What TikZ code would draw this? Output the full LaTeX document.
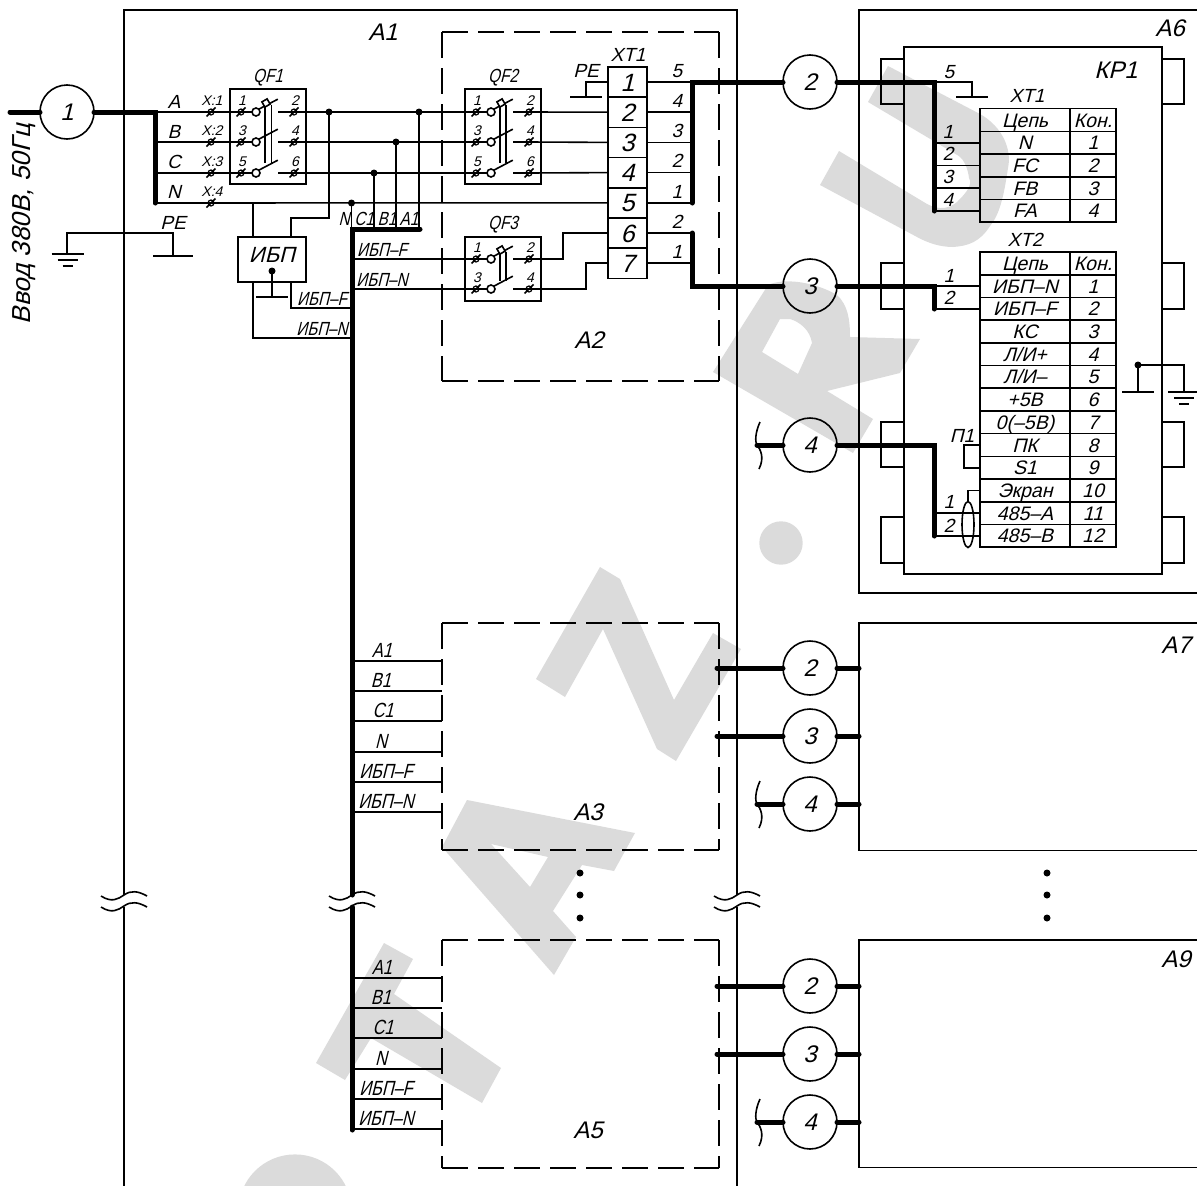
\documentclass[tikz,border=0pt]{standalone}
\usepackage{fontspec}
\setmainfont{Liberation Sans}[FakeStretch=0.8,FakeSlant=0.25]
\newfontfamily\widef{Liberation Sans}[FakeStretch=1,FakeSlant=0.25]
\usetikzlibrary{positioning,shapes.geometric}
\definecolor{stamp}{HTML}{DBDBDB}
\tikzset{
  wire/.style={line width=1.6pt},
  cable/.style={line width=5pt, line cap=round},
  box/.style={draw, line width=1.6pt, inner sep=0pt, outer sep=0pt},
  dashbox/.style={inner sep=0pt, outer sep=0pt},
  dashline/.style={line width=1.6pt, dash pattern=on 26pt off 10pt},
  txt/.style={inner sep=0pt, text depth=0pt, anchor=base, font=\fontsize{19}{19}\selectfont},
  txtS/.style={txt, font=\widef\fontsize{14}{14}\selectfont},
  txtM/.style={txt, font=\fontsize{20.5}{20.5}\selectfont},
  txtW/.style={txt, font=\widef\fontsize{19}{19}\selectfont},
  txtL/.style={txt, font=\widef\fontsize{24}{24}\selectfont},
  tag/.style={circle, draw, line width=1.6pt, minimum size=54pt, inner sep=0pt, outer sep=0pt, text height=17pt, text depth=0pt, font=\widef\fontsize{24}{24}\selectfont},
  dot/.style={circle, fill, inner sep=0pt, minimum size=7pt},
  clampc/.style={circle, draw, line width=1.2pt, inner sep=0pt, minimum size=6pt},
  contact/.style={circle, draw, line width=1.6pt, inner sep=0pt, outer sep=0pt, minimum size=8pt},
  strip/.style={box, minimum width=39pt, minimum height=30.2pt, node distance=30.2pt, text height=18pt, text depth=0pt, font=\widef\fontsize{25}{25}\selectfont},
  cella/.style={box, minimum width=90pt, minimum height=22.7pt, node distance=22.7pt, text height=14pt, text depth=0pt, font=\widef\fontsize{19.5}{19.5}\selectfont},
  cellb/.style={cella, minimum width=46pt},
  shield/.style={ellipse, draw, line width=1.6pt, inner sep=0pt, outer sep=0pt, minimum width=12pt, minimum height=46pt}
}
\newcommand{\clampat}[3]{%
  \node[clampc] (#1) at (#2,#3) {};
  \draw[wire] (#1.center) ++(-4.5,4.5) -- ++(9,-9);
}
\newcommand{\qfrow}[6]{%
  \clampat{#1l}{#2}{#3}
  \clampat{#1r}{#2+53}{#3}
  \node[contact] (#1c) at (#2+15,#3) {};
  \node[txtS] (#1m) at (#2+1,#3-7) {#4};
  \node[txtS] (#1n) at (#2+54,#3-7) {#5};
  \draw[wire] (#1l.center) -- (#1c.west);
  \draw[wire] (#1c.north east) -- ++(19,-#6);
  \draw[wire] (#1r.center) -- ++(-16,0);
}
\newcommand{\gbar}[3]{\draw[wire] (#1-#3,#2) -- (#1+#3,#2);}
\newcommand{\earth}[2]{%
  \gbar{#1}{#2}{16}
  \gbar{#1}{#2+6}{10}
  \gbar{#1}{#2+12}{5}
}
\newcommand{\dashframe}[1]{%
  \draw[dashline] (#1.north west) -- (#1.north east);
  \draw[dashline] (#1.south west) -- (#1.south east);
  \draw[dashline] (#1.north west) -- (#1.south west);
  \draw[dashline] (#1.north east) -- (#1.south east);
}
\begin{document}
\begin{tikzpicture}[x=1pt,y=-1pt]
  \useasboundingbox (0,0) rectangle (1197,1186);

  \fill[stamp] (888,66) -- (980,114) .. controls (1003,127) and (1012,150) .. (1008,168) .. controls (1004,195) and (1000,214) .. (990,226) .. controls (980,242) and (968,246) .. (953,247) .. controls (940,247) and (928,243) .. (917,237) -- (820,185) -- (839,151) -- (927,204) .. controls (940,211) and (950,208) .. (957,202) .. controls (966,193) and (973,185) .. (969,178) .. controls (968,170) and (965,160) .. (958,155.5) -- (868,102) -- cycle;
  \fill[stamp, even odd rule] (713,372) -- (768,285) .. controls (783,278) and (813,281) .. (837,295) .. controls (848,305) and (850,320) .. (850,337) -- (920,339) -- (900,373) -- (827,391) -- (873,419) -- (853,453) -- cycle (762,352) -- (798,374) -- (812,343) .. controls (810,330) and (800,322) .. (790,319) -- (780,319) -- cycle;
  \fill[stamp] (781,543) circle [radius=21.7];
  \fill[stamp] (536,679) -- (600,567) -- (620,579) -- (674,700) -- (713,633) -- (741,649) -- (676,761) -- (657,749) -- (603,629) -- (565,697) -- cycle;
  \fill[stamp, even odd rule] (467,800) -- (635,833) -- (614,871) -- (582,865) -- (553,911) -- (576,937) -- (554,975) -- (442,847) -- cycle (491,844) -- (548,857) -- (530,887) -- cycle;
  \fill[stamp] (384,943) -- (413,959) -- (394,994) -- (501,1068) -- (482,1103) -- (371,1038) -- (345,1080) -- (316,1063) -- cycle;
  \fill[stamp] (295,1211) circle [radius=56.6];

  \draw[wire] (124,895) -- (124,10) -- (737,10) -- (737,895);
  \draw[wire] (124,907) -- (124,1190);
  \draw[wire] (737,907) -- (737,1190);
  \foreach \x in {124,352,737} {
    \draw[wire] (\x-23,896) .. controls (\x-12,903) and (\x-6,899) .. (\x,895) .. controls (\x+7,890) and (\x+14,891) .. (\x+23,896);
    \draw[wire] (\x-23,907) .. controls (\x-12,914) and (\x-6,910) .. (\x,906) .. controls (\x+7,901) and (\x+14,902) .. (\x+23,907);
  }
  \node[txtL] (a1) at (383,40) {A1};

  \node[tag] (w1) at (67,112) {1};
  \coordinate (inA) at (155,112);
  \coordinate (inB) at (155,142);
  \coordinate (inC) at (155,173);
  \coordinate (inN) at (155,203);
  \draw[cable] (10,112) -- (w1.west);
  \draw[cable] (w1.east) -- (inA) -- (inN);
  \node[rotate=90, txt, font=\widef\fontsize{26}{26}\selectfont] (vvod) at (30,224) {Ввод 380В, 50Гц};

  \node[txtW] (la) at (174,108) {A};
  \node[txtW] (lb) [below of=la, node distance=30pt] {B};
  \node[txtW] (lc) [below of=lb, node distance=30pt] {C};
  \node[txtW] (ln) [below of=lc, node distance=30pt] {N};
  \foreach \y [count=\i] in {112,142,173,203} {
    \clampat{x\i}{211}{\y}
    \node[txtS] (xl\i) at (212,\y-7) {X:\i};
  }

  \node[box, minimum width=76pt, minimum height=95pt] (qf1) at (268,136.5) {};
  \node[txt] (qf1l) [above=6pt of qf1] {QF1};
  \qfrow{pa}{241}{112}{1}{2}{10}
  \qfrow{pb}{241}{142}{3}{4}{10}
  \qfrow{pc}{241}{173}{5}{6}{10}
  \draw[wire] (265,105) -- (265,163);
  \draw[wire] (271.5,105) -- (271.5,163);
  \node[box, minimum size=6pt, rotate=30, fill=white] (pk) at (266,103) {};

  \node[box, minimum width=76pt, minimum height=95pt] (qf2) at (503,136.5) {};
  \node[txt] (qf2l) [above=6pt of qf2] {QF2};
  \qfrow{qa}{476}{112}{1}{2}{10}
  \qfrow{qb}{476}{142}{3}{4}{10}
  \qfrow{qc}{476}{173}{5}{6}{10}
  \draw[wire] (500,105) -- (500,163);
  \draw[wire] (506,105) -- (506,163);
  \node[box, minimum size=6pt, rotate=30, fill=white] (qk) at (501,103) {};

  \node[box, minimum width=76pt, minimum height=64pt] (qf3) at (503,269) {};
  \node[txt] (qf3l) [above=7pt of qf3] {QF3};
  \qfrow{ra}{476}{259}{1}{2}{10}
  \qfrow{rb}{476}{289}{3}{4}{10}
  \draw[wire] (500,252) -- (500,281);
  \draw[wire] (506,252) -- (506,281);
  \node[box, minimum size=6pt, rotate=30, fill=white] (rk) at (501,250) {};

  \node[dashbox, minimum width=277pt, minimum height=349pt] (a2) at (580.5,206.5) {};
  \dashframe{a2}
  \node[txtL] (a2l) at (589,348) {A2};

  \node[strip] (xt1) at (627.5,82) {1};
  \foreach \i [remember=\i as \p (initially 1)] in {2,...,7} {
    \node[strip] (xt\i) [below of=xt\p] {\i};
  }
  \node[txtW] (xtl) at (628,61) {XT1};
  \coordinate (busR) at (692,82);
  \foreach \i in {1,...,7} {
    \draw[wire] (xt\i.east) -- (xt\i.east -| busR);
  }
  \foreach \n/\i in {5/1,4/2,3/3,2/4,1/5,2/6,1/7} {
    \node[txtW] (nr\i) at (677,30.2*\i+47) {\n};
  }

  \draw[wire] (inA) -- (pal.center);
  \draw[wire] (inB) -- (pbl.center);
  \draw[wire] (inC) -- (pcl.center);
  \draw[wire] (inN) -- (xt5.west);
  \draw[wire] (par.center) -- (qal.center);
  \draw[wire] (pbr.center) -- (qbl.center);
  \draw[wire] (pcr.center) -- (qcl.center);
  \draw[wire] (qar.center) -- (xt2.west);
  \draw[wire] (qbr.center) -- (xt3.west);
  \draw[wire] (qcr.center) -- (xt4.west);

  \coordinate (busL) at (352,229);
  \node[dot] (j1) at (329,112) {};
  \node[dot] (ja) at (419,112) {};
  \node[dot] (jb) at (396,142) {};
  \node[dot] (jc) at (374,173) {};
  \node[dot] (jn) at (351.5,203) {};
  \draw[wire] (ja.center) -- (ja |- busL);
  \draw[wire] (jb.center) -- (jb |- busL);
  \draw[wire] (jc.center) -- (jc |- busL);
  \draw[wire] (jn.center) -- (jn |- busL);
  \draw[cable] (420,229) -- (busL) -- (352,895);
  \draw[cable] (352,907) -- (352,1130);
  \node[txt] (bn) at (344,225) {N};
  \node[txt] (bc) at (364,225) {C1};
  \node[txt] (bb) at (387,225) {B1};
  \node[txt] (ba) at (409,225) {A1};

  \node[box, minimum width=68pt, minimum height=45pt] (ups) at (272,259.5) {};
  \node[txtL, font=\widef\fontsize{22}{22}\selectfont] (upsl) at (272,262) {ИБП};
  \node[dot] (upsd) at (272,271) {};
  \coordinate (ups1) at (291,237);
  \coordinate (ups2) at (253,237);
  \coordinate (ups3) at (253,282);
  \coordinate (ups4) at (291,282);
  \draw[wire] (j1.center) -- ++(0,106) -| (ups1);
  \draw[wire] (ups2) -- (ups2 |- inN);
  \draw[wire] (ups3) |- (352,338);
  \draw[wire] (ups4) |- (352,308);
  \draw[wire] (upsd.center) -- (272,297);
  \gbar{272}{297}{16}
  \node[txt] (lf) at (322,305) {ИБП–F};
  \node[txt] (ln2) at (322,335) {ИБП–N};
  \draw[wire] (352,259) -- (ral.center);
  \draw[wire] (352,289) -- (rbl.center);
  \node[txt] (rf) at (382,256) {ИБП–F};
  \node[txt] (rn) at (382,286) {ИБП–N};
  \draw[wire] (rar.center) -- ++(34,0) |- (xt6.west);
  \draw[wire] (rbr.center) -- ++(57,0) |- (xt7.west);

  \draw[wire] (67,254) |- (173,233) -- (173,256);
  \earth{67.5}{254}
  \gbar{173}{256}{20}
  \node[txtW] (pel) at (173,229) {PE};
  \draw[wire] (xt1.west) -| (586,97);
  \gbar{586}{97}{16}
  \node[txtW] (pe2) at (586,77) {PE};

  \node[tag] (w2) at (810,82) {2};
  \node[tag] (w3) at (810,286) {3};
  \node[tag] (w4) at (810,445) {4};
  \draw[cable] (692,203) -- (busR) -- (w2.west);
  \draw[cable] (692,233) -- (692,286) -- (w3.west);
  \draw[cable] (w2.east) -- (934,82) -- (934,211);
  \draw[cable] (w3.east) -- (934,286) -- (934,309);
  \draw[cable] (w4.east) -- (934,445) -- (934,536);
  \draw[cable] (757,445) -- (w4.west);

  \node[box, minimum width=346pt, minimum height=583pt] (a6) at (1032,301.5) {};
  \node[txtL] (a6l) at (1170,36) {A6};
  \node[box, minimum width=258pt, minimum height=527pt] (kp1) at (1033,310.5) {};
  \node[txtL] (kp1l) at (1116,78) {КР1};
  \foreach \ya/\yb in {59/104,263/309,422/467,517/563} {
    \draw[wire] (kp1.west |- 0,\ya) -| (881,\yb) -- (kp1.west |- 0,\yb);
    \draw[wire] (kp1.east |- 0,\ya) -| (1184,\yb) -- (kp1.east |- 0,\yb);
  }

  \draw[wire] (934,82) -| (972,97);
  \gbar{972}{97}{16}
  \node[txtW] (n5) at (949,78) {5};
  \node[txtW] (ct) at (1027,102) {XT1};
  \node[cella] (ca0) at (1025,120) {Цепь};
  \node[cellb] (cb0) [right of=ca0, node distance=68pt] {Кон.};
  \foreach \lab [count=\i, remember=\i as \p (initially 0)] in {N,FC,FB,FA} {
    \node[cella] (ca\i) [below of=ca\p] {\lab};
    \node[cellb] (cb\i) [below of=cb\p] {\i};
    \draw[wire] (934,0 |- ca\i.west) -- (ca\i.west);
    \node[txtW] (cn\i) at (948,120+22.7*\i-4.5) {\i};
  }

  \node[txtW] (dt) at (1025,246) {XT2};
  \node[cella] (da0) at (1025,263.4) {Цепь};
  \node[cellb] (db0) [right of=da0, node distance=68pt] {Кон.};
  \foreach \lab [count=\i, remember=\i as \p (initially 0)] in {ИБП–N,ИБП–F,КС,Л/И+,Л/И–,+5В,0(–5В),ПК,S1,Экран,485–A,485–B} {
    \node[cella] (da\i) [below of=da\p] {\lab};
    \node[cellb] (db\i) [below of=db\p] {\i};
  }
  \draw[wire] (934,0 |- da1.west) -- (da1.west);
  \draw[wire] (934,0 |- da2.west) -- (da2.west);
  \node[txtW] (d1) at (949,282) {1};
  \node[txtW] (d2) at (949,304) {2};
  \draw[wire] (934,0 |- da11.west) -- (da11.west);
  \draw[wire] (934,0 |- da12.west) -- (da12.west);
  \node[txtW] (d3) at (949,508) {1};
  \node[txtW] (d4) at (949,532) {2};
  \node[shield] (shd) at (968,524.5) {};
  \draw[wire] (shd.north) |- (da10.west);
  \draw[wire] (da8.west) -- ++(-16,0) |- (da9.west);
  \node[txtW] (p1) at (962,442) {П1};

  \node[dot] (gd) at (1138,365) {};
  \draw[wire] (gd.center) -| (1184,392);
  \draw[wire] (gd.center) -- (1138,392);
  \gbar{1138}{392}{16}
  \earth{1184}{392}

  \foreach \blk/\tp/\hh/\lab/\md in {a3/623/227/A3/820, a5/940/228/A5/1138} {
    \node[dashbox, minimum width=277pt, minimum height=\hh pt] (\blk) at (580.5,\tp+\hh/2) {};
    \dashframe{\blk}
    \node[txtL] (\blk l) at (588,\md) {\lab};
    \foreach \tx/\dy/\lx [count=\i] in {A1/38/382,B1/68/381,C1/98/383,N/129/381,ИБП–F/159/386,ИБП–N/189/386} {
      \draw[wire] (352,\tp+\dy) -- (442,\tp+\dy);
      \node[txtM] (\blk t\i) at (\lx,\tp+\dy-4) {\tx};
    }
  }

  \foreach \blm/\tp/\lab/\lb/\y in {a7/623/A7/653/668, a9/940/A9/967/986} {
    \node[box, minimum width=346pt, minimum height=227.5pt] (\blm) at (1032,\tp+113.75) {};
    \node[txtL] (\blm l) at (1176,\lb) {\lab};
    \node[tag] (\blm w) at (810,\y) {2};
    \node[tag] (\blm u) at (810,\y+68) {3};
    \node[tag] (\blm v) at (810,\y+136) {4};
    \draw[cable] (717,\y) -- (\blm w.west);
    \draw[cable] (717,\y+68) -- (\blm u.west);
    \draw[cable] (\blm w.east) -- (\blm w.east -| \blm.west);
    \draw[cable] (\blm u.east) -- (\blm u.east -| \blm.west);
    \draw[cable] (\blm v.east) -- (\blm v.east -| \blm.west);
    \draw[cable] (757,\y+136) -- (\blm v.west);
  }

  \foreach \y in {445,804,1122} {
    \draw[wire] (760,\y-23) .. controls (755,\y-12) and (755,\y-3) .. (757,\y) .. controls (760,\y+4) and (765,\y+12) .. (759,\y+24);
  }

  \foreach \x in {580,1047} {
    \node[dot] (m\x a) at (\x,873) {};
    \node[dot] (m\x b) at (\x,895) {};
    \node[dot] (m\x c) at (\x,918) {};
  }
\end{tikzpicture}
\end{document}
